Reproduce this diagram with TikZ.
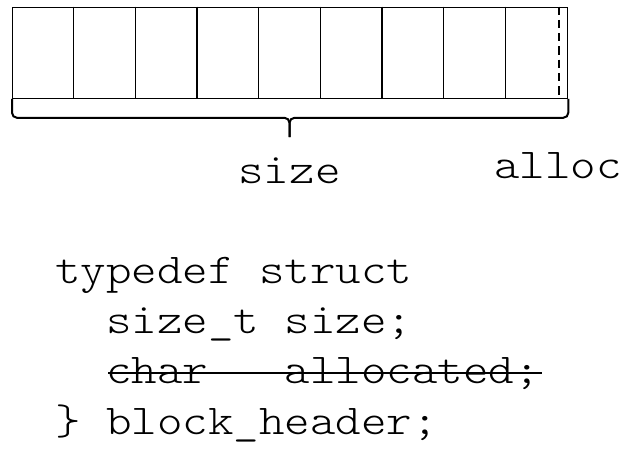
\documentclass[tikz,border=0pt]{standalone}
\usepackage{fontspec}
\setmonofont[FakeStretch=1.143]{lmmonolt10-regular.otf}
\usetikzlibrary{positioning}

\begin{document}
\begin{tikzpicture}[x=1pt, y=-1pt, thick,
        code/.style = {anchor=base west, inner sep=0pt, font=\ttfamily\fontsize{42.5}{50}\selectfont},
        mem/.style = {draw, line width=1.3pt, minimum width=555pt, minimum height=91pt, inner sep=0pt, anchor=north west}]

            \useasboundingbox (0,0) rectangle (633,456);

            \node[mem] (block) at (12,6.5) {};
            \foreach \i in {1,...,8}
                \draw[line width=1.3pt] ([xshift=\i*61.67pt]block.north west) -- ([xshift=\i*61.67pt]block.south west);
            \draw[line width=2pt, dash pattern=on 8.3pt off 5pt] ([xshift=-9pt]block.north east) -- ([xshift=-9pt]block.south east);

            \coordinate (bracetip) at (289.5,137);
            \draw[line width=2pt, rounded corners=5pt] (block.south west) -- ++(0,19) -| (bracetip);
            \draw[line width=2pt, rounded corners=5pt] (block.south east) -- ++(0,19) -| (bracetip);

            \node[code, anchor=base] (sizelbl) at (289.5,183.3) {size};
            \node[code] (alloclbl) at (494,178.3) {alloc};

            \node[code] (l1) at (55,283) {typedef struct};
            \node[code] (l2) at (106,333) {size\_t size;};
            \node[code] (l3) at (106,383.5) {char\ \ \ allocated;};
            \node[code] (l4) at (55,434) {\} block\_header;};

            \coordinate (strikestart) at (108,373);
            \coordinate (strikeend) at (542,373);
            \draw[line width=1.5pt] (strikestart) -- (strikeend);

\end{tikzpicture}
\end{document}
